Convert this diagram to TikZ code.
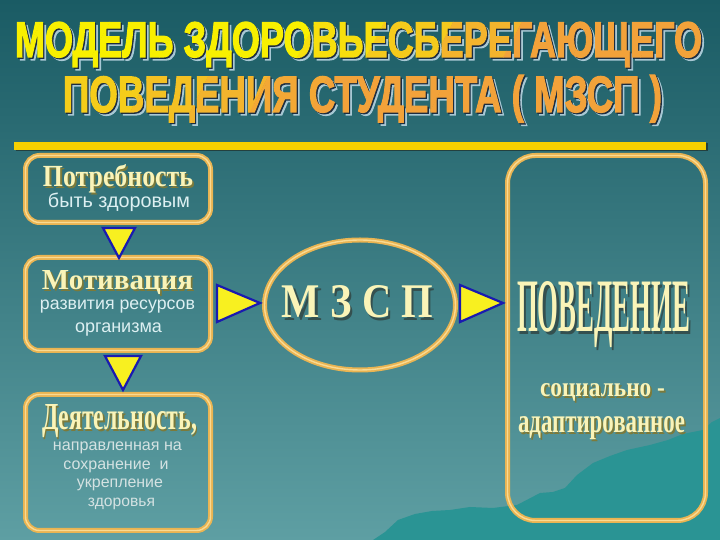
\documentclass[tikz,border=0pt]{standalone}
\usepackage{fontspec}
\setmainfont{Liberation Serif}
\setsansfont{Liberation Sans}
\newfontfamily\titlefont{Liberation Sans Bold}[FakeBold=2.5]
\usetikzlibrary{calc,shapes.geometric}
\definecolor{bgtop}{HTML}{1A5B64}
\definecolor{bgbot}{HTML}{5E9FA3}
\definecolor{goldA}{HTML}{E9B452}
\definecolor{goldB}{HTML}{F9DA92}
\definecolor{triY}{HTML}{F8F020}
\definecolor{triB}{HTML}{1A1AB0}
\definecolor{mount}{HTML}{2A9494}
\definecolor{ttlY}{HTML}{F8F000}
\definecolor{ttlO}{HTML}{F2A23A}
\definecolor{shdL}{HTML}{A8C8D4}
\definecolor{shdD}{HTML}{1C2C40}
\definecolor{paleY}{HTML}{FAF4B8}
\definecolor{headSh}{HTML}{7C7A3A}
\definecolor{darkSh}{HTML}{34504F}
\definecolor{bodyT}{HTML}{DDF0F2}
\definecolor{bodyG}{HTML}{D4E2E2}
\definecolor{barY}{HTML}{F6D000}
\definecolor{barSh}{HTML}{23403F}
\newcommand\ttlline[8]{%
  \node[lbl,text=shdL] (#1) at (#2+3,#3-3) {\resizebox{#4pt}{#5pt}{\titlefont #6}};
  \node[lbl,text=shdD] at (#2+1.3,#3-1.3) {\resizebox{#4pt}{#5pt}{\titlefont #6}};
  \foreach \i in {-2,...,11}{%
    \pgfmathsetmacro\xl{#2-#4/2+\i*#4/10}%
    \pgfmathsetmacro\xr{\xl+#4/10+0.4}%
    \pgfmathtruncatemacro\pc{max(0,min(100,#7-#8*max(0,min(1,\i/9))))}%
    \begin{scope}
      \clip (\xl,#3-14) -- (\xr,#3-14) -- (\xr+30,#3+#5+8) -- (\xl+30,#3+#5+8) -- cycle;
      \node[lbl,text=ttlY!\pc!ttlO] at (#2,#3) {\resizebox{#4pt}{#5pt}{\titlefont #6}};
    \end{scope}}%
}
\newcommand\stx[7]{%
  \node[lbl,text=#4] at (#2+#5,#3-#5) {#7};
  \node[lbl,text=#6] (#1) at (#2,#3) {#7};}
\begin{document}
\begin{tikzpicture}[x=1pt,y=1pt,
  goldbox/.style={draw=goldA, double=goldB, double distance=1.4pt, line width=1.8pt,
    rounded corners=14pt, minimum width=185pt, inner sep=0pt, outer sep=0pt},
  tri/.style={fill=triY, draw=triB, line width=2.2pt, line join=miter},
  lbl/.style={anchor=base, inner sep=0pt, outer sep=0pt}]
\useasboundingbox (0,0) rectangle (720,540);
\shade[top color=bgtop, bottom color=bgbot] (0,0) rectangle (720,540);
% mountains
\fill[mount] (373,0) -- (385,8) -- (398,20) -- (415,26) -- (432,29) -- (450,30)
  -- (470,33) -- (493,32) -- (517,35) -- (540,47) -- (553,48) -- (565,52)
  -- (577,65) -- (593,77) -- (610,84) -- (627,90) -- (650,95) -- (668,100)
  -- (683,106) -- (703,110) -- (712,118) -- (720,122) -- (720,0) -- cycle;
% title
\ttlline{ttlA}{358.5}{483}{687}{35}{МОДЕЛЬ ЗДОРОВЬЕСБЕРЕГАЮЩЕГО}{190}{250}
\ttlline{ttlB}{362.5}{428}{599}{37}{ПОВЕДЕНИЯ СТУДЕНТА ( МЗСП )}{55}{140}
% bar
\fill[barSh] (15.5,388.5) rectangle (707.5,396.5);
\fill[barY] (14,390) rectangle (706,398);
% boxes
\node[goldbox, minimum height=67pt] (b1) at (118,351) {};
\node[goldbox, minimum height=93pt] (b2) at (118,236) {};
\node[goldbox, minimum height=136pt] (b3) at (118,77.5) {};
\node[goldbox, rounded corners=28pt, minimum width=198pt, minimum height=365pt] (big) at (606.5,202) {};
\node[goldbox, ellipse, minimum width=191pt, minimum height=130pt] (ell) at (360,235) {};
% connectors (triangles)
\draw[tri] ($(b1.south)+(-15,-5.5)$) -- ($(b1.south)+(17,-5.5)$) -- ($(b2.north)+(1,-0.5)$) -- cycle;
\draw[tri] ($(b2.south)+(-13,-5.5)$) -- ($(b2.south)+(23,-5.5)$) -- ($(b3.north)+(5,4.5)$) -- cycle;
\draw[tri] ($(b2.east)+(6.5,19)$) -- ($(ell.west)+(-4.5,2)$) -- ($(b2.east)+(6.5,-18)$) -- cycle;
\draw[tri] ($(ell.east)+(4.5,20)$) -- ($(big.west |- ell.east)+(-4.5,2)$) -- ($(ell.east)+(4.5,-17)$) -- cycle;
% headings
\stx{h1}{118}{353}{headSh}{1.8}{paleY}{\resizebox{150pt}{22pt}{\bfseries Потребность}}
\stx{h2}{117.5}{250}{headSh}{1.8}{paleY}{\resizebox{151pt}{19pt}{\bfseries Мотивация}}
\stx{h3}{119.5}{110}{headSh}{1.8}{paleY}{\resizebox{155pt}{25pt}{\bfseries Деятельность,}}
% body texts
\node[lbl,text=bodyT] (t1) at (119,332) {\resizebox{142pt}{!}{\sffamily быть здоровым}};
\node[lbl,text=bodyT] (t2) at (117.5,230) {\resizebox{155pt}{!}{\sffamily развития ресурсов}};
\node[lbl,text=bodyT] (t3) at (118.5,207) {\resizebox{87pt}{!}{\sffamily организма}};
\node[lbl,text=bodyG] (t4) at (117.5,89) {\resizebox{129pt}{!}{\sffamily направленная на}};
\node[lbl,text=bodyG] (t5) at (116,70) {\resizebox{105pt}{!}{\sffamily сохранение~ и}};
\node[lbl,text=bodyG] (t6) at (120,52) {\resizebox{86pt}{!}{\sffamily укрепление}};
\node[lbl,text=bodyG] (t7) at (121.5,33) {\resizebox{67pt}{!}{\sffamily здоровья}};
% centre and right
\stx{m}{357.5}{222}{darkSh}{2.2}{paleY}{\resizebox{151pt}{32pt}{\bfseries М З С П}}
\stx{p}{603.5}{208}{darkSh}{2.2}{paleY}{\resizebox{173pt}{50pt}{\bfseries ПОВЕДЕНИЕ}}
\stx{s1}{602.5}{143}{headSh}{1.6}{paleY}{\resizebox{125pt}{13pt}{\bfseries социально -}}
\stx{s2}{601.5}{107}{headSh}{1.6}{paleY}{\resizebox{167pt}{16pt}{\bfseries адаптированное}}
\end{tikzpicture}
\end{document}
